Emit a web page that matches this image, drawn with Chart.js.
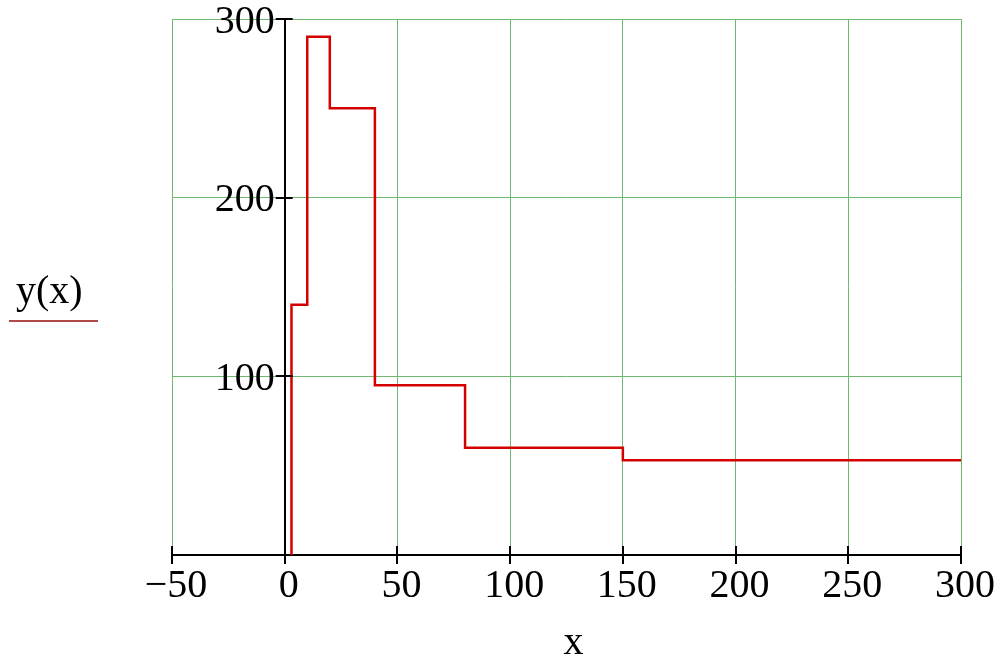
<!DOCTYPE html>
<html>
<head>
<meta charset="utf-8">
<script src="https://cdn.jsdelivr.net/npm/chart.js@4"></script>
<style>
  html, body { margin: 0; padding: 0; background: #ffffff; }
  #c { display: block; }
</style>
</head>
<body>
<canvas id="c" width="1002" height="658"></canvas>
<script>
// ---- data ----
const stepStart = 3;                                   // x where y(x) rises from 0
const stepEdges = [3, 10, 20, 40, 80, 150, 300];       // piece boundaries along x
const stepValues = [140, 290, 250, 95, 60, 53];        // y(x) on each piece
const xTickValues = [-50, 0, 50, 100, 150, 200, 250, 300];
const yTickValues = [0, 100, 200, 300];
const seriesLabel = 'y(x)';
const xTitle = 'x';

// build the piecewise-constant polyline from the arrays
const points = [{ x: stepStart, y: 0 }];
for (let i = 0; i < stepValues.length; i++) {
  points.push({ x: stepEdges[i], y: stepValues[i] });
  points.push({ x: stepEdges[i + 1], y: stepValues[i] });
}

const SERIF = "'Liberation Serif', 'Times New Roman', serif";
const GRID = 'rgb(110,185,110)';

const decor = {
  id: 'decor',
  afterDraw(chart) {
    const ctx = chart.ctx;
    const xs = chart.scales.x, ys = chart.scales.y;
    const area = chart.chartArea;
    const axisX = xs.getPixelForValue(0);
    ctx.save();
    ctx.strokeStyle = '#000';
    ctx.lineWidth = 2;
    // x tick marks crossing the axis
    xTickValues.forEach(v => {
      const px = Math.round(xs.getPixelForValue(v));
      ctx.beginPath();
      ctx.moveTo(px, area.bottom - 9);
      ctx.lineTo(px, area.bottom + 9);
      ctx.stroke();
    });
    // y tick marks crossing the y axis
    yTickValues.filter(v => v > 0).forEach(v => {
      const py = Math.round(ys.getPixelForValue(v));
      ctx.beginPath();
      ctx.moveTo(axisX - 9, py);
      ctx.lineTo(axisX + 8, py);
      ctx.stroke();
    });
    // series label with underline (legend-like)
    ctx.fillStyle = '#000';
    ctx.font = '40px ' + SERIF;
    ctx.textAlign = 'left';
    ctx.textBaseline = 'alphabetic';
    ctx.fillText(seriesLabel, 16, 303);
    ctx.strokeStyle = '#b04a4a';
    ctx.lineWidth = 2;
    ctx.beginPath();
    ctx.moveTo(9, 321);
    ctx.lineTo(98, 321);
    ctx.stroke();
    // x axis title
    ctx.fillStyle = '#000';
    ctx.textAlign = 'center';
    ctx.fillText(xTitle, (area.left + area.right) / 2 + 7, 654);
    ctx.restore();
  }
};

new Chart(document.getElementById('c'), {
  type: 'scatter',
  data: {
    datasets: [{
      label: seriesLabel,
      data: points,
      showLine: true,
      borderColor: '#d40000',
      borderWidth: 2.5,
      pointRadius: 0,
      fill: false,
      tension: 0
    }]
  },
  options: {
    responsive: false,
    devicePixelRatio: 1,
    animation: false,
    layout: { padding: { left: 172, right: 41, top: 19, bottom: 0 } },
    plugins: { legend: { display: false }, tooltip: { enabled: false } },
    scales: {
      x: {
        type: 'linear',
        position: 'bottom',
        min: -50,
        max: 300,
        afterBuildTicks(scale) { scale.ticks = xTickValues.map(v => ({ value: v })); },
        afterFit(scale) { scale.height = 103; scale.paddingLeft = 0; scale.paddingRight = 0; },
        grid: { color: GRID, lineWidth: 1, drawTicks: false },
        border: { display: true, color: '#000', width: 2 },
        ticks: {
          color: '#000',
          font: { family: SERIF, size: 40 },
          padding: 7,
          labelOffset: 4,
          maxRotation: 0,
          autoSkip: false,
          callback: v => String(v).replace('-', '\u2212')
        }
      },
      y: {
        type: 'linear',
        position: { x: 0 },
        min: 0,
        max: 300,
        afterBuildTicks(scale) { scale.ticks = yTickValues.map(v => ({ value: v })); },
        afterFit(scale) { scale.paddingTop = 0; scale.paddingBottom = 0; },
        grid: { color: GRID, lineWidth: 1, drawTicks: false },
        border: { display: true, color: '#000', width: 2 },
        ticks: {
          color: '#000',
          font: { family: SERIF, size: 40 },
          labelOffset: 3,
          autoSkip: false,
          // trailing space keeps the label clear of the axis line
          callback: v => (v === 0 ? '' : String(v) + ' ')
        }
      }
    }
  },
  plugins: [decor]
});
</script>
</body>
</html>
